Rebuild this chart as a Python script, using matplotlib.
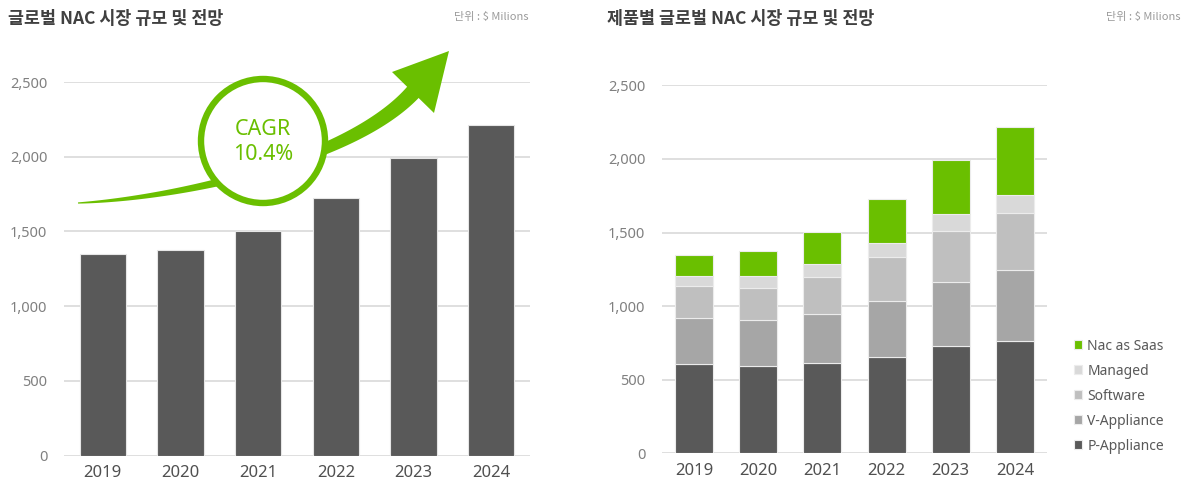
import numpy as np
import matplotlib
matplotlib.use("Agg")
import matplotlib.pyplot as plt
from matplotlib.patches import Polygon, Circle
from matplotlib.transforms import Affine2D

plt.rcParams['font.family'] = ['Noto Sans CJK KR', 'DejaVu Sans']

# ---- data ----
years = ['2019', '2020', '2021', '2022', '2023', '2024']
total = [1348, 1375, 1502, 1726, 1993, 2215]
p_appliance = [610, 591, 614, 657, 729, 763]
v_appliance = [310, 313, 331, 378, 437, 480]
software = [215, 222, 253, 297, 345, 388]
managed = [72, 77, 89, 95, 113, 124]
nac_saas = [141, 172, 215, 299, 369, 460]
series_names = ['P-Appliance', 'V-Appliance', 'Software', 'Managed', 'Nac as Saas']
yticks = [0, 500, 1000, 1500, 2000, 2500]
ytick_labels = ['0', '500', '1,000', '1,500', '2,000', '2,500']
title_left = '글로벌 NAC 시장 규모 및 전망'
title_right = '제품별 글로벌 NAC 시장 규모 및 전망'
unit_text = '단위 : $ Milions'
cagr_text = 'CAGR\n10.4%'

GREEN = '#6abf00'
DARK = '#595959'
colors = ['#595959', '#a6a6a6', '#bfbfbf', '#d9d9d9', GREEN]

W, H = 1186, 484
fig = plt.figure(figsize=(W / 100, H / 100), dpi=100)
fig.patch.set_facecolor('white')

def px_axes(left, top, right, bottom):
    return fig.add_axes([left / W, 1 - bottom / H, (right - left) / W, (bottom - top) / H])

def style(ax):
    ax.set_xlim(-0.5, 5.5)
    ax.set_ylim(0, 2500)
    for s in ax.spines.values():
        s.set_visible(False)
    ax.set_yticks(yticks)
    ax.set_yticklabels(ytick_labels, fontsize=10.5, color='#808080', family=['Noto Sans', 'DejaVu Sans'])
    ax.tick_params(axis='y', length=0, pad=12)
    ax.tick_params(axis='x', length=0, pad=7)
    ax.set_xticks(range(len(years)))
    ax.set_xticklabels(years, fontsize=12, color='#505050', family=['Noto Sans', 'DejaVu Sans'])
    ax.grid(axis='y', color='#dcdcdc', lw=1.3)
    ax.set_axisbelow(True)

# ---- left chart ----
ax1 = px_axes(64, 82, 530, 455.5)
style(ax1)
x = np.arange(len(years))
ax1.bar(x, total, width=0.6, color=DARK, edgecolor='#e6e6e6', linewidth=0.8, zorder=2)

# ---- right chart ----
ax2 = px_axes(662, 85.4, 1047, 453.3)
style(ax2)
bottom = np.zeros(len(years))
handles = []
for name, vals, c in zip(series_names, [p_appliance, v_appliance, software, managed, nac_saas], colors):
    b = ax2.bar(x, vals, bottom=bottom, width=0.59, color=c, edgecolor='#ececec', linewidth=0.8,
                label=name, zorder=2)
    handles.append(b)
    bottom += np.array(vals)

leg = ax2.legend(handles[::-1], series_names[::-1], loc='upper left',
                 bbox_to_anchor=(1068 / W, 1 - 333 / H), bbox_transform=fig.transFigure,
                 frameon=False, handlelength=0.6, handleheight=0.6,
                 handletextpad=0.4, labelspacing=0.72, borderaxespad=0,
                 prop={'family': ['Noto Sans', 'DejaVu Sans'], 'size': 10})
for t in leg.get_texts():
    t.set_color(DARK)

# ---- titles ----
fig.text(8 / W, 1 - 19 / H, title_left, fontsize=12.5, fontweight='bold', color='#404040',
         ha='left', va='center')
fig.text(607 / W, 1 - 19 / H, title_right, fontsize=12.5, fontweight='bold', color='#404040',
         ha='left', va='center')
fig.text(529 / W, 1 - 17 / H, unit_text, fontsize=8, color='#9a9a9a', ha='right', va='center')
fig.text(1180 / W, 1 - 17 / H, unit_text, fontsize=8, color='#9a9a9a', ha='right', va='center')

# ---- CAGR arrow decoration (pixel coordinates, y downward) ----
pix = Affine2D().scale(1 / W, -1 / H).translate(0, 1) + fig.transFigure
P0 = np.array([78, 203.0]); P1 = np.array([180, 198.0])
P2 = np.array([354, 160.0]); P3 = np.array([415, 90.0])
t = np.linspace(0, 1, 120)[:, None]
pts = (1 - t) ** 3 * P0 + 3 * (1 - t) ** 2 * t * P1 + 3 * (1 - t) * t ** 2 * P2 + t ** 3 * P3
d = np.gradient(pts, axis=0)
d /= np.linalg.norm(d, axis=1)[:, None]
nrm = np.column_stack([-d[:, 1], d[:, 0]])
hw = (0.6 + 7.5 * t[:, 0] ** 0.9)[:, None]
upper = pts + nrm * hw
lower = pts - nrm * hw
shaft = np.vstack([upper, lower[::-1]])
fig.patches.append(Polygon(shaft, closed=True, transform=pix, facecolor=GREEN, edgecolor='none', zorder=5))
head = np.array([[449, 51], [392, 72], [434, 113]], dtype=float)
fig.patches.append(Polygon(head, closed=True, transform=pix, facecolor=GREEN, edgecolor='none', zorder=5))
fig.patches.append(Circle((263, 141), 62, transform=pix, facecolor='white', edgecolor=GREEN,
                          linewidth=4.6, zorder=6))
fig.text(263 / W, 1 - 142 / H, cagr_text, fontsize=15.5, color=GREEN, ha='center', va='center',
         linespacing=1.3, family=['Noto Sans', 'DejaVu Sans'], zorder=7)

fig.savefig('out.png', dpi=100, facecolor='white')
